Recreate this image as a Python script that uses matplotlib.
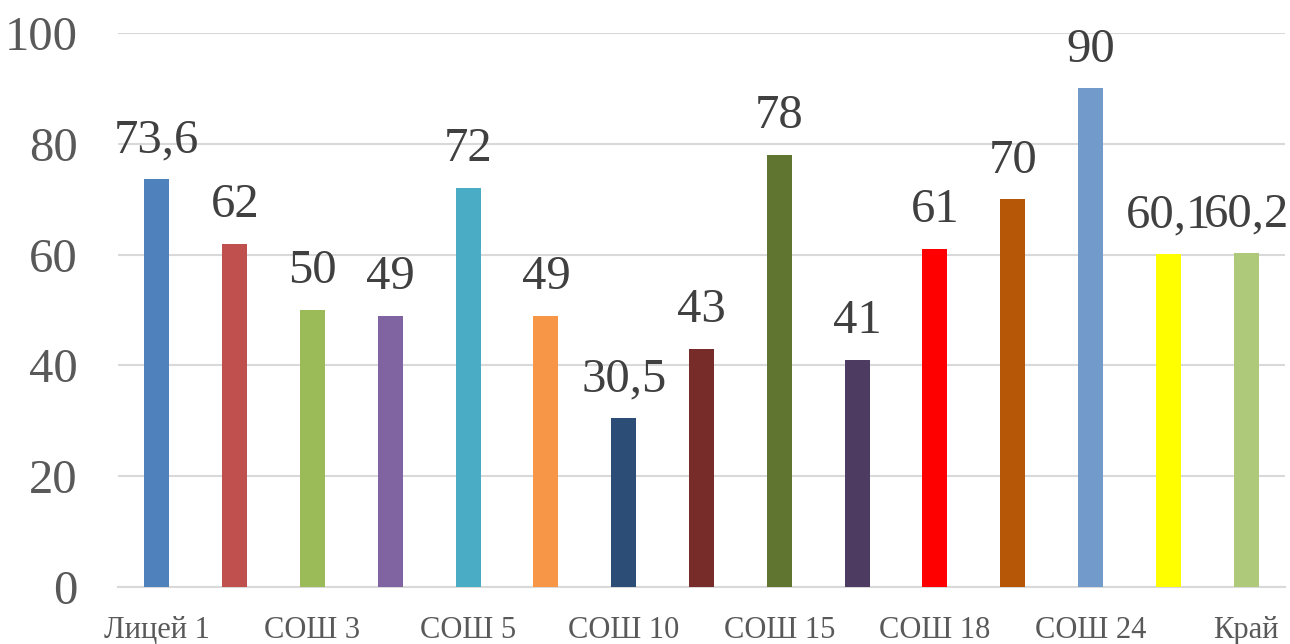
import matplotlib
matplotlib.use("Agg")
import matplotlib.pyplot as plt

# School results; only every other category label is printed under the axis
categories = ["Лицей 1", "", "СОШ 3", "", "СОШ 5", "", "СОШ 10", "",
              "СОШ 15", "", "СОШ 18", "", "СОШ 24", "", "Край"]
values = [73.6, 62, 50, 49, 72, 49, 30.5, 43, 78, 41, 61, 70, 90, 60.1, 60.2]
colors = ["#4F81BD", "#C0504D", "#9BBB59", "#8064A2", "#4BACC6", "#F79646",
          "#2C4D75", "#772C2A", "#5F7530", "#4D3B62", "#FF0000", "#B65708",
          "#729ACA", "#FFFF00", "#AFC97A"]
y_ticks = [0, 20, 40, 60, 80, 100]

plt.rcParams["font.family"] = ["Liberation Serif", "DejaVu Serif"]

fig = plt.figure(figsize=(12.9, 6.44), dpi=100)
ax = fig.add_axes([118 / 1290, 1 - 587 / 644, (1285 - 118) / 1290, (587 - 33) / 644])

x = list(range(len(values)))
bars = ax.bar(x, values, width=0.32, color=colors, zorder=3)

for xi, v in zip(x, values):
    ax.annotate(f"{v:g}".replace(".", ","), (xi, v), xytext=(0, 12),
                textcoords="offset points", ha="center", va="bottom",
                fontsize=35, color="#404040", zorder=4)

ax.set_xlim(-0.5, len(values) - 0.5)
ax.set_ylim(0, 100)
ax.set_yticks(y_ticks)
ax.set_yticklabels([str(t) for t in y_ticks])
ax.set_xticks(x)
ax.set_xticklabels(categories)

ax.grid(axis="y", color="#D9D9D9", linewidth=1.5, zorder=0)
for side in ["top", "right", "left"]:
    ax.spines[side].set_visible(False)
ax.spines["bottom"].set_color("#D9D9D9")
ax.spines["bottom"].set_linewidth(1.5)

ax.tick_params(axis="y", length=0, pad=29, labelsize=35, labelcolor="#595959")
ax.tick_params(axis="x", length=0, pad=21, labelsize=22, labelcolor="#595959")

fig.savefig("out.png", dpi=100)
